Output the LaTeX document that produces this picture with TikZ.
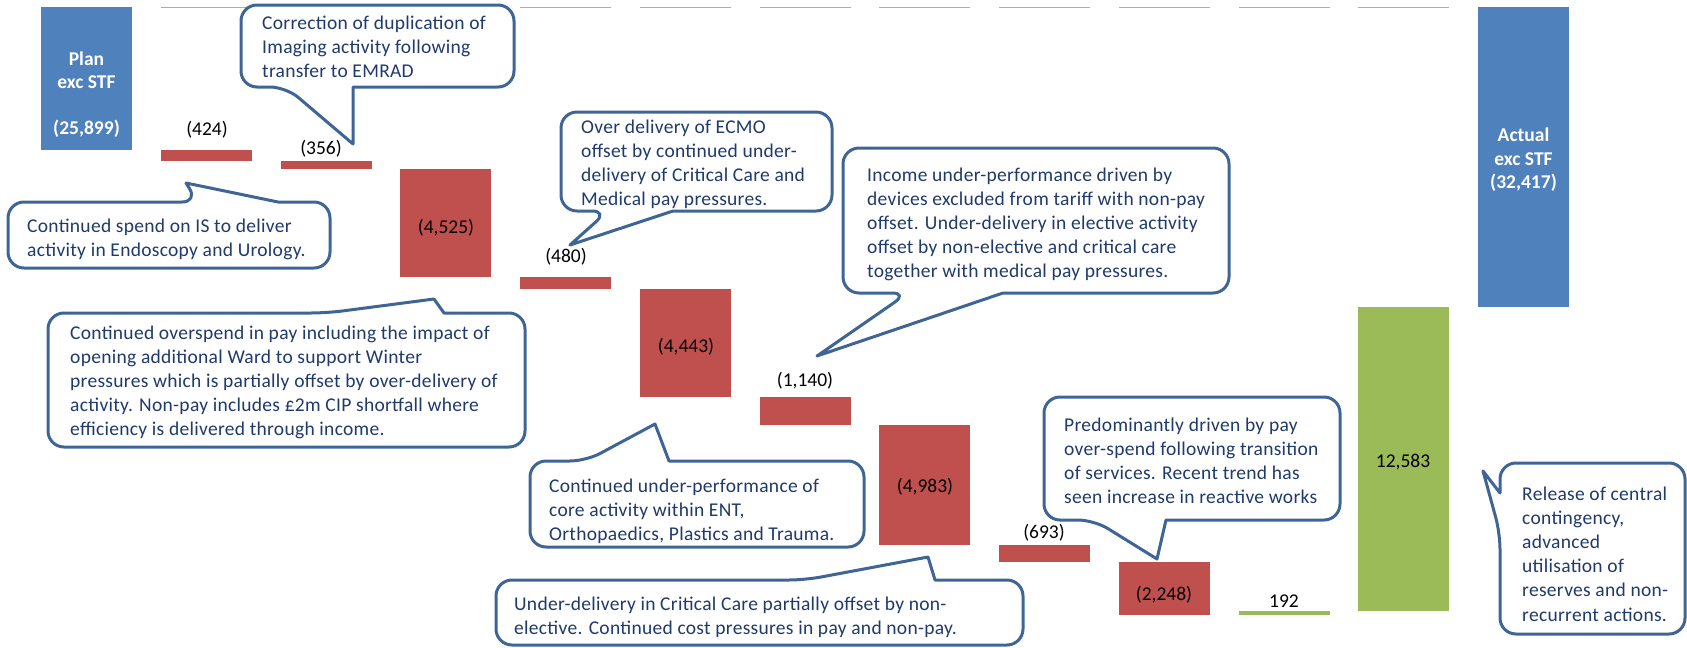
\documentclass[tikz,border=0pt]{standalone}
\usepackage{fontspec}
\setmainfont{Carlito}
\newfontfamily\callfont[LetterSpace=1.5]{Carlito}
\definecolor{barblue}{HTML}{4F81BD}
\definecolor{barred}{HTML}{C0504D}
\definecolor{bargreen}{HTML}{9BBB59}
\definecolor{callbd}{HTML}{3E6596}
\definecolor{calltxt}{HTML}{1F3A6B}
\definecolor{gridblue}{HTML}{95B3D7}
\begin{document}
\begin{tikzpicture}[x=1pt,y=-1pt,
  callout/.style={draw=callbd, line width=3pt, fill=white, line join=round},
  ctext/.style={anchor=base west, align=left, inner sep=0pt, text=calltxt, font=\callfont\fontsize{19.5}{24.2}\selectfont},
  lbl/.style={inner sep=0pt, font=\fontsize{19.5}{24}\selectfont},
  wlbl/.style={inner sep=0pt, text=white, align=center, font=\bfseries\fontsize{19.5}{23.5}\selectfont},
  gridln/.style={draw=gridblue, line width=1pt}]
\useasboundingbox (0,0) rectangle (1687,648);
% top guide segments
\foreach \i in {1,...,11} \draw[gridln] ({41+119.75*\i},7.5) -- ++(91,0);
% bars
\fill[barblue] (41,7.3) rectangle (132,150);
\fill[barred] (160.75,150) rectangle (251.75,160.7);
\fill[barred] (280.5,160.7) rectangle (371.5,169.3);
\fill[barred] (400.25,169.3) rectangle (491.25,277.3);
\fill[barred] (520,277.3) rectangle (611,289.3);
\fill[barred] (639.75,289.3) rectangle (730.75,396.5);
\fill[barred] (759.5,396.5) rectangle (850.5,424.7);
\fill[barred] (879.25,424.7) rectangle (970.25,545);
\fill[barred] (999,545) rectangle (1090,561.7);
\fill[barred] (1118.75,561.7) rectangle (1209.75,615);
\fill[bargreen] (1238.5,611) rectangle (1329.5,615);
\fill[bargreen] (1358.25,307) rectangle (1449.25,611);
\fill[barblue] (1478,7.3) rectangle (1569,307);
% bar labels
\node[wlbl] (plan) at (86.5,70) {Plan\\exc STF};
\node[wlbl] (planv) at (86.5,129) {(25,899)};
\node[wlbl] (actual) at (1523.5,160) {Actual\\exc STF\\(32,417)};
\node[lbl] (v1) at (207,130) {(424)};
\node[lbl] (v2) at (321,149) {(356)};
\node[lbl] (v3) at (446,228) {(4,525)};
\node[lbl] (v4) at (566,257) {(480)};
\node[lbl] (v5) at (686,347) {(4,443)};
\node[lbl] (v6) at (805,381) {(1,140)};
\node[lbl] (v7) at (925,487) {(4,983)};
\node[lbl] (v8) at (1044,533) {(693)};
\node[lbl] (v9) at (1164,595) {(2,248)};
\node[lbl] (v10) at (1284,601) {192};
\node[lbl] (v11) at (1403,462) {12,583};
% callout A
\draw[callout] (286,87) -- (353,144) -- (353,87) [rounded corners=16] -- (514,87) -- (514,5) -- (241,5) -- (241,87) -- cycle;
\node[ctext] (ta) at (262,77.4) {Correction of duplication of\\Imaging activity following\\transfer to EMRAD};
% callout B
\draw[callout] (198,202) -- (186,183) -- (278,202) [rounded corners=16] -- (330,202) -- (330,268) -- (8,268) -- (8,202) -- cycle;
\node[ctext] (tb) at (27,256.2) {Continued spend on IS to deliver\\activity in Endoscopy and Urology.};
% callout C
\draw[callout] (327,313) -- (434,299) -- (444,313) [rounded corners=16] -- (525,313) -- (525,447) -- (48,447) -- (48,313) -- cycle;
\node[ctext] (tc) at (70,435.8) {Continued overspend in pay including the impact of\\opening additional Ward to support Winter\\pressures which is partially offset by over-delivery of\\activity. Non-pay includes £2m CIP shortfall where\\efficiency is delivered through income.};
% callout D
\draw[callout] (608,211) -- (570,245) -- (673,211) [rounded corners=16] -- (832,211) -- (832,112) -- (561,112) -- (561,211) -- cycle;
\node[ctext] (td) at (581,205.6) {Over delivery of ECMO\\offset by continued under-\\delivery of Critical Care and\\Medical pay pressures.};
% callout E
\draw[callout] (908,293) -- (817,356) -- (1003,293) [rounded corners=16] -- (1229,293) -- (1229,148) -- (843,148) -- (843,293) -- cycle;
\node[ctext] (te) at (867,277.8) {Income under-performance driven by\\devices excluded from tariff with non-pay\\offset. Under-delivery in elective activity\\offset by non-elective and critical care\\together with medical pay pressures.};
% callout F
\draw[callout] (586,461) -- (655,424) -- (669,461) [rounded corners=16] -- (864,461) -- (864,547) -- (530,547) -- (530,461) -- cycle;
\node[ctext] (tf) at (549,540.4) {Continued under-performance of\\core activity within ENT,\\Orthopaedics, Plastics and Trauma.};
% callout G
\draw[callout] (805,580) -- (928,557) -- (935,580) [rounded corners=16] -- (1023,580) -- (1023,645) -- (496,645) -- (496,580) -- cycle;
\node[ctext] (tg) at (514,634.2) {Under-delivery in Critical Care partially offset by non-\\elective. Continued cost pressures in pay and non-pay.};
% callout H
\draw[callout] (1094,520) -- (1157,559) -- (1166,520) [rounded corners=16] -- (1340,520) -- (1340,397) -- (1044,397) -- (1044,520) -- cycle;
\node[ctext] (th) at (1064,503.6) {Predominantly driven by pay\\over-spend following transition\\of services. Recent trend has\\seen increase in reactive works};
% callout I
\draw[callout] (1500,533) -- (1483,471) -- (1500,493) [rounded corners=16] -- (1500,463) -- (1685,463) -- (1685,634) -- (1500,634) -- cycle;
\node[ctext] (ti) at (1522,621) {Release of central\\contingency,\\advanced\\utilisation of\\reserves and non-\\recurrent actions.};
\end{tikzpicture}
\end{document}
